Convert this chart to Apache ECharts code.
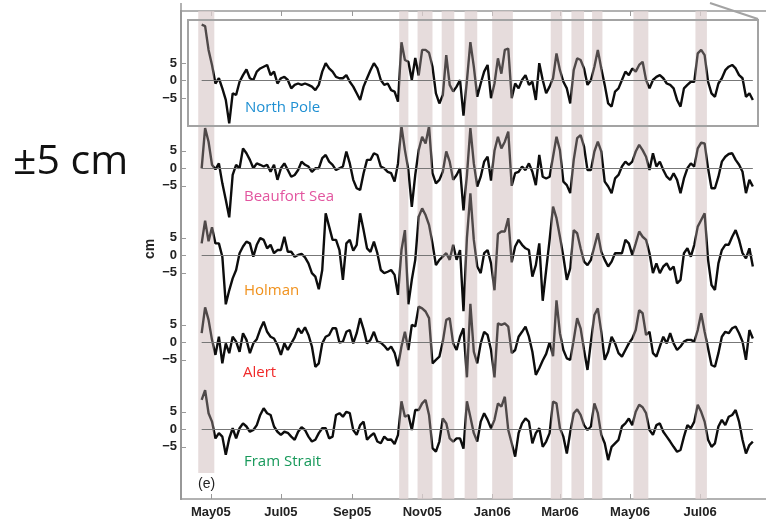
<!DOCTYPE html>
<html>
<head>
<meta charset="utf-8">
<script src="https://cdn.jsdelivr.net/npm/echarts@6/dist/echarts.min.js"></script>
<style>
  html, body { margin: 0; padding: 0; background: #fff; }
  #chart { width: 766px; height: 520px; }
</style>
</head>
<body>
<div id="chart"></div>
<script>
// days counted from 1 May 2005, one sample every 3 days
const startDay = -8;
const stepDays = 3;

const northPole = [
  16, 15.6, 8.8, 4.5, -0.8, 0.7, -2.2, -5.5, -12.2, -3.6,
  -4.1, -0.3, 1.6, 3.2, 0.7, 0.2, 2.6, 3.5, 4.0, 4.5,
  1.6, 2.6, -0.8, 0.7, 1.1, 0.2, -2.2, -1.2, -0.8, -1.2,
  -0.8, -1.2, -1.7, -2.7, -1.2, 2.6, 5.0, 3.5, 2.6, 1.1,
  0.7, 0.7, 1.6, -0.3, -1.7, -3.6, -5.5, -1.7, 0.7, 3.0,
  5.0, 3.5, 0.2, -1.2, -0.8, -2.7, -3.1, -6.0, 11, 5.9,
  5.4, 0.2, 6.5, 1.5, 8.8, 8.8, 8, 4, -3.6, -6.5,
  -4.1, 7.3, -1.2, -3.1, -1.7, 0.2, -10, 0, 11, 4,
  -4.6, -0.8, 2.6, 4.5, -5, -0.8, 6.4, 2, 8.8, 9.2,
  -5, -0.8, -2.2, 0.2, 1.6, -1.2, -0.3, -5.5, 5.0, 0.2,
  -3.6, -1.7, 0.7, 7.8, 3.0, -0.3, -2.2, -6.5, 3.0, 6.4,
  5.9, 3.5, -1.2, 0.2, 4.0, 8.8, 3.5, -1.2, -6.5, -7.4,
  -3.1, -2.2, 0.2, 2.6, 1.6, 3.5, 2.6, 4.5, 5.4, 0.2,
  -2.2, 0.2, 1.1, 1.6, 0.7, -0.8, -1.2, -2.2, -5.5, -7.4,
  -2.2, -1.2, -0.3, -0.3, 7.8, 8.8, 7.3, -0.3, -3.6, -4.6,
  -0.8, 0.7, 3.0, 4.0, 4.5, 3.5, 1.6, 0.7, -4.6, -3.6, -5.5
];
const beaufortSea = [
  0, 11.5, 7.6, 1.0, -0.3, 1.4, -4.3, -9.0, -14, -1.9,
  1.0, 0, 5.7, 4.3, 2.4, 0, 1.4, 1.0, 0.5, 1.0,
  -1.0, 1.0, -3.3, 0, 1.4, -0.5, -2.4, -1.9, -0.5, 1.9,
  1.0, 0.5, -1.0, 0, 0, 2.9, 3.8, 1.9, 1.0, -0.5,
  0, 0.5, 4.8, 1.4, -3.3, -5.7, -6.2, -1.4, 2.4, 2.4,
  4.3, 3.8, 0.5, 0, -1.0, -1.4, -3.8, 1.4, 12, 5.2,
  -0.5, -11, -1.9, 5.2, 9.0, 7.1, 12, -1.4, -4.3, -3.3,
  -1.0, 4.8, 1.9, -3.3, -1.9, 0, -12, -2, 11.5, 1.4,
  -5.2, -2.4, 1.9, 3.3, -3.5, 5, 9.0, 5.7, 7.6, 10.5,
  -5, -1.4, -1.0, 0.5, -0.5, 1.4, -1.0, -4.8, 3.8, -2.4,
  -2.9, -2.4, 3.3, 9.0, 5.2, -3.8, -4.8, -7.1, 2.4, 8.6,
  9.5, 6.2, -0.5, -0.5, 4.8, 7.6, 4.8, -3.8, -5.2, -7.1,
  -2.9, -1.9, 0.5, 1.9, 1.0, 1.9, 4.8, 6.7, 5.2, 3.3,
  -0.5, 4.3, 0.5, 1.9, -0.5, -2.4, -3.3, -1.4, -3.3, -7.1,
  -2.9, 0, 1.4, 0.5, 5.7, 7.3, 7.1, 0, -5.7, -5.7,
  -2.4, 1.9, 3.3, 4.1, 4.3, 2.4, 1.0, -1.0, -7.1, -3.3, -5.2
];
const holman = [
  3.4, 9.9, 4, 8, 3.4, 3.4, -0.4, -14, -10, -6.6,
  -4.2, 0.6, 2.5, 3.9, 3.4, -0.4, 3.0, 4.9, 4.4, 2.0,
  3.0, 0.6, 1.5, 1.5, 5.3, 1.0, 1.0, -0.4, 0.1, 0.4,
  -0.6, -2.3, -5.1, -6.1, -9.7, -4.2, 12, 8.2, 4.4, 4.4,
  1.5, -7.0, 3.4, 4.4, 1.3, 3.0, 12, 7.2, 2.0, 1.0,
  3.9, 0.6, -4.2, -5.1, -4.7, -4.2, -5.6, -11.3, 1.5, 7.2,
  -14, -7, -1.3, 11.0, 13.4, 11.5, 8.7, 3.4, -2.8, -1.3,
  -0.4, 0.6, -1.3, 3.0, -1.3, 1.5, -16, 5, 17.7, 4.4,
  -3.2, -5.1, 0.6, 1.5, -2.3, -10, 6.1, 6.8, 6.8, 10.6,
  -2, 2.5, 4.4, 3.0, 2.0, 1.5, -6.1, -2.8, 3.4, -13,
  -4.2, 4.4, 13.9, 10.6, 5.3, -0.4, -7.0, -3.7, 7.2, 6.3,
  2.0, -1.8, -2.8, -1.3, 2.5, 6.3, 1.0, -1.3, -3.2, -1.8,
  0.6, 0.6, 0.6, 4.4, 3.4, 0.1, 3.4, 6.8, 5.3, 4.4,
  0.6, -5.1, -2.3, -5.1, -3.2, -2.3, -4.2, -3.2, -8.0, -7.0,
  0.6, 2.0, -0.4, 3.0, 8.2, 10.1, 12, -1.3, -8.5, -9.9,
  -2.3, 1.5, 3.0, 3.0, 5.3, 7.2, 4.4, 0.6, -0.9, 2.0, -3.2
];
const alert = [
  2.6, 10, 6.4, 0.7, -3.6, 1.6, -6.0, -0.3, -3.1, 1.6,
  0.2, -2.7, 2.6, 0.7, -3.1, -0.3, 0.9, 3.7, 5.9, 3.0,
  1.6, 1.1, -0.8, -3.6, -0.3, -2.2, -0.3, 1.4, 4.0, 2.6,
  4.3, 2.1, -1.2, -7, -6, -0.3, 1.6, 2.1, 4.0, 4.0,
  -0.1, 0.2, 3.0, 3.5, -0.3, 2.6, 6.9, 3.7, -0.3, 0.7,
  3.0, 0.2, -0.1, -1.0, -2.2, -1.2, -3.0, -6.8, -1.2, 3.0,
  -2.2, 5.0, 4.5, 10.2, 9.7, 8.8, 6.9, -6, -5, -4.1,
  0.2, 6.4, 6.9, -0.3, -2.2, 1.6, 4, -10, 11, -2.7,
  -6, -0.3, 3.0, 2.1, -2.2, -10, 5.4, 5.0, 5.4, 4.5,
  -3.1, -2.2, 1.6, 3.0, 4.5, 1.6, -2.7, -9.3, -7.4, -5.2,
  -3.3, 0, -4, 12, 2.6, -2.2, -4.6, -5, 0.7, 6.9,
  4.0, -2.2, -7.9, 0.2, 7.8, 9.7, 3.0, -5, -2.7, 1.6,
  -0.3, -3.1, -4.1, -2.2, -0.3, 1.1, 3.5, 9.2, 8.3, 2.1,
  3.0, -3.1, -4.1, -1.2, 1.6, -0.3, 2.6, -0.3, -2.2, -1.2,
  0.2, 0.7, 0.7, 0.2, 3.5, 8.3, 3.0, -1.7, -6.5, -7.0,
  -3.1, 1.6, 3.0, 2.6, 4.0, 4.5, 2.6, 0.2, -5, 3.5, 1.1
];
const framStrait = [
  8.4, 11.2, 4.6, 2.2, -2.6, -1.1, -2.1, -7.3, -2.6, 0.3,
  -2.6, 0.3, 1.7, 0.8, -0.7, -0.2, 1.2, 4.1, 6.0, 4.6,
  4.1, 0.8, -0.7, -1.6, -0.7, -1.0, -2.1, -3.0, -0.7, 0.6,
  -0.2, -2.1, -3.5, -3.0, -1.1, 0.3, 0.3, -2.6, -2.1, 4.1,
  4.6, 3.6, 5.0, 4.6, -0.2, -1.6, 1.2, 2.2, -3.0, -1.9,
  -1.1, -3.5, -4.0, -2.1, -3.0, -2.9, -4.2, -1.6, 8, 3.6,
  4.1, -0.2, 5.5, 5.5, 7.4, 8.4, 4.1, -5.4, -6.4, -3.5,
  3.1, 1.7, -2.6, -3.5, -2.6, -2.6, -5.5, 8, 3.5, -1.1,
  -3.5, 2.2, 4.6, 2.7, 0.3, 2.7, 7.4, 6.5, 9.3, -0.2,
  -4.0, -7.8, -1.1, 1.7, 3.1, 2.2, -4.0, -1.1, 0.3, -5.0,
  -3.5, -1.1, 7.9, 7.4, 0.3, -2.1, -6.9, -0.7, 4.6, 5.7,
  4.1, 1.2, -0.2, 0.8, 7.4, 4.6, -1.6, -4.0, -8.8, -5.0,
  -4.0, -3.0, 0.8, 1.7, 3.1, 1.2, 5.0, 7.0, 6.3, 4.6,
  -0.2, -1.6, 1.2, 1.7, -0.7, -2.1, -3.5, -5.0, -6.4, -5.9,
  -2.1, 1.2, 0.3, 2.2, 7.0, 5.0, 2.2, -3.0, -5.0, -4.0,
  0.8, 2.7, 1.2, 3.6, 4.1, 5.5, 2.2, -3.0, -6.9, -4.5, -3.5
];

const siteNames = ["North Pole", "Beaufort Sea", "Holman", "Alert", "Fram Strait"];
const siteValues = [northPole, beaufortSea, holman, alert, framStrait];
const siteColors = ["#1e8fd2", "#e2559f", "#f0911c", "#f02a2a", "#17995a"];

// shaded event windows, in days from 1 May 2005
const bands = [[-11, 3], [164, 172], [180, 193], [201, 212], [221, 232], [245, 263],
  [296, 306], [314, 325], [332, 341], [368, 381], [422, 432]];

const monthTicks = [0, 61, 123, 184, 245, 304, 365, 426];
const monthLabels = ["May05", "Jul05", "Sep05", "Nov05", "Jan06", "Mar06", "May06", "Jul06"];
const yTicks = [-5, 0, 5];

const days = northPole.map((v, i) => startDay + i * stepDays);

// layout
const pxPerDay = 1.1483;
const gridLeft = 181, gridTop = 11, gridWidth = 585, gridHeight = 488;
const xMin = -26;
const xMax = xMin + gridWidth / pxPerDay;
const pxPerCm = 3.5;
const zeroPx = [80.7, 168.3, 255.3, 342.3, 429.3];
const labelPos = [[245, 108], [244, 197], [244, 291], [243, 373], [244, 462]];

const chart = echarts.init(document.getElementById("chart"));

const axisGray = "#999";
const boldFont = "Arial, 'Liberation Sans', sans-serif";
const grids = [], xAxes = [], yAxes = [], series = [];

siteValues.forEach((vals, i) => {
  grids.push({ left: gridLeft, top: gridTop, width: gridWidth, height: gridHeight, outerBoundsMode: "none" });
  xAxes.push({
    gridIndex: i,
    type: "value",
    min: xMin,
    max: xMax,
    show: i === 4 || i === 0,
    position: i === 0 ? "top" : "bottom",
    axisLine: { show: true, onZero: false, lineStyle: { color: axisGray, width: 1.5 } },
    axisTick: { show: true, inside: true, length: 5, customValues: monthTicks, lineStyle: { color: axisGray } },
    axisLabel: {
      show: i === 4,
      customValues: monthTicks,
      formatter: v => monthLabels[monthTicks.indexOf(v)],
      fontFamily: boldFont,
      fontWeight: "bold",
      fontSize: 13,
      color: "#222",
      margin: 7
    },
    splitLine: { show: false }
  });
  yAxes.push({
    gridIndex: i,
    type: "value",
    min: -(gridTop + gridHeight - zeroPx[i]) / pxPerCm,
    max: (zeroPx[i] - gridTop) / pxPerCm,
    axisLine: { show: true, onZero: false, lineStyle: { color: axisGray, width: 1.5 } },
    axisTick: { show: true, inside: true, length: 5, customValues: yTicks, lineStyle: { color: axisGray } },
    axisLabel: {
      customValues: yTicks,
      formatter: v => (v < 0 ? "\u2212" + Math.abs(v) : String(v)),
      fontFamily: boldFont,
      fontWeight: "bold",
      fontSize: 13,
      color: "#222",
      margin: 4
    },
    splitLine: { show: false }
  });
  const s = {
    name: siteNames[i],
    type: "line",
    xAxisIndex: i,
    yAxisIndex: i,
    data: days.map((d, k) => [d, vals[k]]),
    showSymbol: false,
    symbol: "none",
    z: 3,
    lineStyle: { width: 2.4 },
    markLine: {
      silent: true,
      symbol: "none",
      label: { show: false },
      lineStyle: { color: "#777", width: 1, type: "solid" },
      data: [[{ coord: [days[0], 0] }, { coord: [days[days.length - 1], 0] }]]
    }
  };
  if (i === 4) {
    const yMaxFram = (zeroPx[4] - gridTop) / pxPerCm;
    s.markArea = {
      silent: true,
      itemStyle: { color: "rgba(222, 208, 208, 0.75)" },
      data: bands.map((b, j) => j === 0
        ? [{ xAxis: b[0], yAxis: yMaxFram }, { xAxis: b[1], yAxis: -12.5 }]
        : [{ xAxis: b[0] }, { xAxis: b[1] }])
    };
  }
  series.push(s);
});

const graphic = siteNames.map((name, i) => ({
  type: "text",
  x: labelPos[i][0],
  y: labelPos[i][1],
  z: 10,
  style: {
    text: name,
    fill: siteColors[i],
    font: "15px 'Open Sans', sans-serif",
    verticalAlign: "middle"
  }
}));
graphic.push(
  {
    type: "rect",
    z: 10,
    shape: { x: 188, y: 20, width: 570, height: 106 },
    style: { fill: "none", stroke: "#a3a3a3", lineWidth: 2 }
  },
  {
    type: "line",
    z: 10,
    shape: { x1: 710, y1: 3, x2: 758, y2: 19 },
    style: { stroke: "#a3a3a3", lineWidth: 2 }
  },
  {
    type: "line",
    z: 10,
    shape: { x1: 181, y1: 3, x2: 181, y2: 11 },
    style: { stroke: axisGray, lineWidth: 1.5 }
  },
  {
    // y axis title
    type: "text",
    x: 150,
    y: 249,
    rotation: Math.PI / 2,
    z: 10,
    style: { text: "cm", fill: "#222", font: "bold 14px Arial, 'Liberation Sans', sans-serif", align: "center", verticalAlign: "middle" }
  },
  {
    type: "text",
    x: 198,
    y: 484,
    z: 10,
    style: { text: "(e)", fill: "#222", font: "14px Arial, 'Liberation Sans', sans-serif", verticalAlign: "middle" }
  },
  {
    type: "text",
    x: 13,
    y: 162,
    z: 10,
    style: { text: "\u00b15 cm", fill: "#111", font: "41px 'Open Sans', sans-serif", verticalAlign: "middle" }
  }
);

const option = {
  animation: false,
  backgroundColor: "#fff",
  grid: grids,
  xAxis: xAxes,
  yAxis: yAxes,
  visualMap: {
    type: "piecewise",
    show: false,
    dimension: 0,
    seriesIndex: [0, 1, 2, 3, 4],
    pieces: bands.map(b => ({ gte: b[0], lte: b[1], color: "#4f4949" })),
    outOfRange: { color: "#0d0d0d" }
  },
  series: series,
  graphic: graphic
};

option && chart.setOption(option);
</script>
</body>
</html>
